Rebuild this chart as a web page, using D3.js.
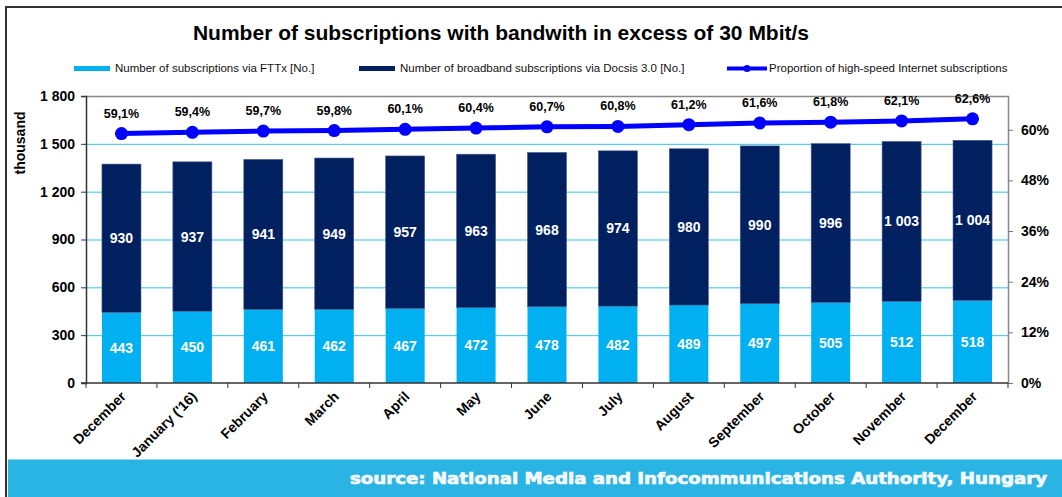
<!DOCTYPE html>
<html>
<head>
<meta charset="utf-8">
<script src="https://cdn.jsdelivr.net/npm/d3@7"></script>
<style>
  html, body { margin: 0; padding: 0; background: #fff; }
  svg { display: block; font-family: "Liberation Sans", Arial, sans-serif; }
</style>
</head>
<body>
<svg id="chart" width="1062" height="497"></svg>
<script>
const categories = ["December", "January ('16)", "February", "March", "April", "May", "June", "July", "August", "September", "October", "November", "December"];
const fttx = [443, 450, 461, 462, 467, 472, 478, 482, 489, 497, 505, 512, 518];
const docsis = [930, 937, 941, 949, 957, 963, 968, 974, 980, 990, 996, 1003, 1004];
const proportion = [59.1, 59.4, 59.7, 59.8, 60.1, 60.4, 60.7, 60.8, 61.2, 61.6, 61.8, 62.1, 62.6];
const leftTicks = [0, 300, 600, 900, 1200, 1500, 1800];
const rightTicks = [0, 12, 24, 36, 48, 60];
const seriesNames = ["Number of subscriptions via FTTx [No.]", "Number of broadband subscriptions via Docsis 3.0 [No.]", "Proportion of high-speed Internet subscriptions"];
const titleText = "Number of subscriptions with bandwith in excess of 30 Mbit/s";
const sourceText = "source: National Media and Infocommunications Authority, Hungary";

const C_LIGHT = "#00b0f0", C_DARK = "#002060", C_LINE = "#0000ff", C_GRID = "#33c3ee", C_FOOT = "#2ab4e4";
const loc = d3.formatLocale({decimal: ",", thousands: "\u00a0", grouping: [3], currency: ["", ""]});
const fmtInt = loc.format(",d");
const fmtPct = loc.format(".1f");

const svg = d3.select("#chart");
const L = 86, R = 1008, T = 96, B = 383;

const idx = categories.map((d, i) => i);
const x = d3.scaleBand().domain(idx).range([L, R]).paddingInner(0.45).paddingOuter(0.225);
const y = d3.scaleLinear().domain([0, 1800]).range([B, T]);
const y2 = d3.scaleLinear().domain([0, 68]).range([B, T]);

// frame
svg.append("line").attr("x1", 5).attr("x2", 1062).attr("y1", 7).attr("y2", 7).attr("stroke", "#333").attr("stroke-width", 2);
svg.append("line").attr("x1", 6).attr("x2", 6).attr("y1", 7).attr("y2", 497).attr("stroke", "#333").attr("stroke-width", 2);

// title
svg.append("text").attr("x", 501).attr("y", 40).attr("text-anchor", "middle")
  .attr("font-size", 21).attr("font-weight", "bold").attr("fill", "#000").text(titleText);

// legend
const lg = svg.append("g").attr("font-size", 11.5).attr("fill", "#111");
lg.append("rect").attr("x", 74).attr("y", 66).attr("width", 36).attr("height", 5).attr("fill", C_LIGHT);
lg.append("text").attr("x", 115).attr("y", 72).text(seriesNames[0]);
lg.append("rect").attr("x", 359).attr("y", 66).attr("width", 36).attr("height", 5).attr("fill", C_DARK);
lg.append("text").attr("x", 400).attr("y", 72).text(seriesNames[1]);
lg.append("line").attr("x1", 727).attr("x2", 767).attr("y1", 68.5).attr("y2", 68.5).attr("stroke", C_LINE).attr("stroke-width", 4);
lg.append("circle").attr("cx", 747).attr("cy", 68.5).attr("r", 3.5).attr("fill", C_LINE);
lg.append("text").attr("x", 769).attr("y", 72).text(seriesNames[2]);

// gridlines
svg.append("g").selectAll("line").data(leftTicks.filter(d => d > 0 && d < 1800)).join("line")
  .attr("x1", L).attr("x2", R).attr("y1", d => y(d) + 0.5).attr("y2", d => y(d) + 0.5)
  .attr("stroke", C_GRID).attr("stroke-width", 1);

// plot border top/right
svg.append("path").attr("d", `M${L},${T + 0.5}H${R + 0.5}V${B}`).attr("fill", "none").attr("stroke", "#888").attr("stroke-width", 1.5);

// bars
const bars = svg.append("g");
bars.selectAll("rect.f").data(idx).join("rect").attr("class", "f")
  .attr("x", i => x(i)).attr("width", x.bandwidth())
  .attr("y", i => y(fttx[i])).attr("height", i => y(0) - y(fttx[i])).attr("fill", C_LIGHT);
bars.selectAll("rect.d").data(idx).join("rect").attr("class", "d")
  .attr("x", i => x(i)).attr("width", x.bandwidth())
  .attr("y", i => y(fttx[i] + docsis[i])).attr("height", i => y(fttx[i]) - y(fttx[i] + docsis[i]))
  .attr("fill", C_DARK).attr("stroke", "#4a5a8a").attr("stroke-width", 0.6);

// bar labels
const bl = svg.append("g").attr("font-size", 14).attr("font-weight", "bold").attr("fill", "#fff").attr("text-anchor", "middle");
bl.selectAll("text.f").data(idx).join("text").attr("class", "f")
  .attr("x", i => x(i) + x.bandwidth() / 2).attr("y", i => (y(0) + y(fttx[i])) / 2 + 5)
  .text(i => fmtInt(fttx[i]));
bl.selectAll("text.d").data(idx).join("text").attr("class", "d")
  .attr("x", i => x(i) + x.bandwidth() / 2).attr("y", i => (y(fttx[i]) + y(fttx[i] + docsis[i])) / 2 + 5)
  .text(i => fmtInt(docsis[i]));

// axes
const yAxisL = d3.axisLeft(y).tickValues(leftTicks).tickSize(5).tickFormat(d => fmtInt(d));
const gL = svg.append("g").attr("transform", `translate(${L},0)`).call(yAxisL);
gL.select(".domain").attr("stroke", "#333").attr("stroke-width", 1.5);
gL.selectAll(".tick line").attr("stroke", "#333");
gL.selectAll(".tick text").attr("font-size", 14).attr("font-weight", "bold").attr("fill", "#000")
  .attr("font-family", "Liberation Sans, Arial, sans-serif").attr("x", -11);

const yAxisR = d3.axisRight(y2).tickValues(rightTicks).tickSize(5).tickFormat(d => d + "%");
const gR = svg.append("g").attr("transform", `translate(${R},0)`).call(yAxisR);
gR.select(".domain").remove();
gR.selectAll(".tick line").attr("stroke", "#777");
gR.selectAll(".tick text").attr("font-size", 14).attr("font-weight", "bold").attr("fill", "#000")
  .attr("font-family", "Liberation Sans, Arial, sans-serif").attr("x", 13);

// x axis
const gX = svg.append("g");
gX.append("line").attr("x1", L - 5).attr("x2", R).attr("y1", B).attr("y2", B).attr("stroke", "#333").attr("stroke-width", 1.5);
const step = x.step();
gX.selectAll("line.t").data(d3.range(categories.length + 1)).join("line").attr("class", "t")
  .attr("x1", i => x(0) - (step - x.bandwidth()) / 2 + i * step).attr("x2", i => x(0) - (step - x.bandwidth()) / 2 + i * step)
  .attr("y1", B).attr("y2", B + 5).attr("stroke", "#333");
gX.selectAll("text").data(idx).join("text")
  .attr("transform", i => `translate(${x(i) + x.bandwidth() / 2 + 2},${B + 11}) rotate(-45)`)
  .attr("text-anchor", "end").attr("font-size", 14).attr("font-weight", "bold").attr("fill", "#000")
  .attr("dy", "0.35em").text(i => categories[i]);

// y title
svg.append("text").attr("transform", `translate(25,143) rotate(-90)`).attr("text-anchor", "middle")
  .attr("font-size", 14).attr("font-weight", "bold").attr("fill", "#000").text("thousand");

// line
const line = d3.line().x(i => x(i) + x.bandwidth() / 2).y(i => y2(proportion[i]));
svg.append("path").datum(idx).attr("d", line).attr("fill", "none").attr("stroke", C_LINE).attr("stroke-width", 5);
svg.append("g").selectAll("circle").data(idx).join("circle")
  .attr("cx", i => x(i) + x.bandwidth() / 2).attr("cy", i => y2(proportion[i])).attr("r", 6.5).attr("fill", C_LINE);
svg.append("g").attr("font-size", 12.5).attr("font-weight", "bold").attr("fill", "#000").attr("text-anchor", "middle")
  .selectAll("text").data(idx).join("text")
  .attr("x", i => x(i) + x.bandwidth() / 2).attr("y", i => y2(proportion[i]) - 16)
  .text(i => fmtPct(proportion[i]) + "%");

// footer
svg.append("rect").attr("x", 8).attr("y", 459).attr("width", 1054).attr("height", 38).attr("fill", C_FOOT);
svg.append("line").attr("x1", 8).attr("x2", 1062).attr("y1", 459.5).attr("y2", 459.5).attr("stroke", "#8fdcf5").attr("stroke-width", 1);
svg.append("text").attr("x", 1047).attr("y", 484).attr("text-anchor", "end")
  .attr("font-family", "DejaVu Sans, sans-serif").attr("font-size", 15).attr("font-weight", "bold").attr("fill", "#f4f8fb")
  .attr("stroke", "#f4f8fb").attr("stroke-width", 0.7)
  .attr("textLength", 697).attr("lengthAdjust", "spacingAndGlyphs").text(sourceText);
</script>
</body>
</html>
